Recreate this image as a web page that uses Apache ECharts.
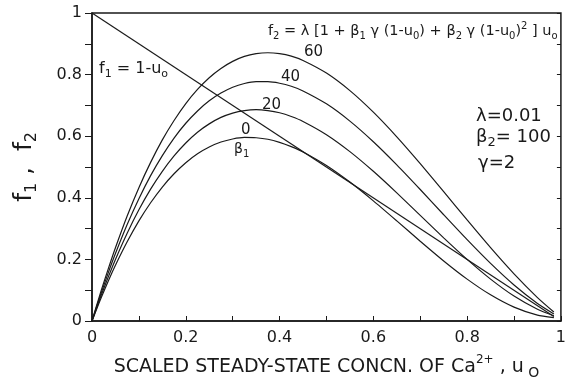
<!DOCTYPE html>
<html>
<head>
<meta charset="utf-8">
<script src="https://cdn.jsdelivr.net/npm/echarts@6/dist/echarts.min.js"></script>
<style>
  html, body { margin: 0; padding: 0; background: #fff; }
  #chart { width: 569px; height: 385px; }
</style>
</head>
<body>
<div id="chart"></div>
<script>
// scaled steady-state concentration u0 (x values)
let uValues = [0, 0.01, 0.02, 0.035, 0.05, 0.075, 0.1, 0.125, 0.15, 0.175, 0.2, 0.225, 0.25, 0.275,
  0.3, 0.325, 0.35, 0.375, 0.4, 0.425, 0.45, 0.5, 0.55, 0.6, 0.65, 0.7, 0.75, 0.8, 0.85, 0.9, 0.95, 0.985];

// f2 curves, one per beta1
let f2Beta0 = [0, 0.039, 0.077, 0.131, 0.181, 0.257, 0.325, 0.384, 0.435, 0.478, 0.514, 0.543, 0.565, 0.581,
  0.591, 0.596, 0.595, 0.59, 0.58, 0.566, 0.549, 0.505, 0.451, 0.39, 0.325, 0.259, 0.195, 0.136, 0.085, 0.045, 0.019, 0.011];
let f2Beta20 = [0, 0.043, 0.085, 0.144, 0.2, 0.285, 0.361, 0.428, 0.486, 0.536, 0.578, 0.613, 0.64, 0.661,
  0.675, 0.683, 0.686, 0.683, 0.676, 0.664, 0.648, 0.605, 0.55, 0.486, 0.416, 0.343, 0.27, 0.2, 0.136, 0.081, 0.038, 0.017];
let f2Beta40 = [0, 0.047, 0.093, 0.158, 0.219, 0.313, 0.397, 0.472, 0.537, 0.594, 0.642, 0.682, 0.715, 0.74,
  0.759, 0.771, 0.777, 0.777, 0.772, 0.762, 0.747, 0.705, 0.649, 0.582, 0.507, 0.427, 0.345, 0.264, 0.187, 0.117, 0.057, 0.023];
let f2Beta60 = [0, 0.051, 0.101, 0.171, 0.238, 0.341, 0.433, 0.515, 0.588, 0.651, 0.706, 0.752, 0.79, 0.82,
  0.843, 0.859, 0.868, 0.871, 0.868, 0.86, 0.846, 0.805, 0.748, 0.678, 0.598, 0.511, 0.42, 0.328, 0.238, 0.153, 0.076, 0.029];

// f1 = 1 - u0, straight line
let f1U = [0, 0.985];
let f1Values = [1, 0.015];

let tickValues = [0, 0.2, 0.4, 0.6, 0.8, 1];

let font = 'DejaVu Sans';
let ink = '#1a1a1a';

function pairs(xs, ys) {
  let res = [];
  for (let i = 0; i < xs.length; i++) {
    res.push([xs[i], ys[i]]);
  }
  return res;
}

function curve(name, ys) {
  return {
    name: name,
    type: 'line',
    data: pairs(uValues, ys),
    smooth: 0.2,
    showSymbol: false,
    lineStyle: { color: ink, width: 1.2 }
  };
}

function label(text, left, top, size) {
  return {
    type: 'text',
    left: left,
    top: top,
    style: {
      text: text,
      fill: ink,
      font: size + 'px ' + font,
      rich: {
        a: { fontSize: size, fontFamily: font, fill: ink, lineHeight: size + 6, verticalAlign: 'middle' },
        sub: { fontSize: Math.round(size * 0.7), fontFamily: font, fill: ink, verticalAlign: 'bottom' },
        sup: { fontSize: Math.round(size * 0.7), fontFamily: font, fill: ink, verticalAlign: 'top' }
      }
    }
  };
}

let axisFmt = function (v) {
  if (tickValues.indexOf(v) < 0) return '';
  return v === 0 || v === 1 ? String(v) : v.toFixed(1);
};

let chart = echarts.init(document.getElementById('chart'));

let option = {
  animation: false,
  backgroundColor: '#fff',
  grid: {
    left: 92, right: 8, top: 13, bottom: 61,
    show: true,
    borderColor: ink,
    borderWidth: 1.5
  },
  xAxis: {
    type: 'value',
    min: 0, max: 1, interval: 0.2,
    name: '{a|SCALED STEADY-STATE CONCN. OF Ca}{sup|2+}{a| , u}{sub| O}',
    nameLocation: 'middle',
    nameGap: 33,
    nameTextStyle: {
      rich: {
        a: { fontSize: 19, fontFamily: font, color: ink, lineHeight: 26, verticalAlign: 'middle' },
        sup: { fontSize: 12, fontFamily: font, color: ink, verticalAlign: 'top' },
        sub: { fontSize: 14, fontFamily: font, color: ink, verticalAlign: 'bottom' }
      }
    },
    axisLine: { lineStyle: { color: ink, width: 1.5 } },
    axisTick: { inside: true, length: 5, lineStyle: { color: ink } },
    minorTick: { show: true, splitNumber: 2, length: 5, lineStyle: { color: ink } },
    axisLabel: { color: ink, fontSize: 16, fontFamily: font, margin: 9, formatter: axisFmt },
    splitLine: { show: false }
  },
  yAxis: [{
    type: 'value',
    min: 0, max: 1, interval: 0.2,
    name: '{a|f}{sub|1}{a| ,  f}{sub|2}',
    nameLocation: 'middle',
    nameRotate: 90,
    nameGap: 52,
    nameTextStyle: {
      rich: {
        a: { fontSize: 25, fontFamily: font, color: ink, lineHeight: 32, verticalAlign: 'middle' },
        sub: { fontSize: 16, fontFamily: font, color: ink, verticalAlign: 'bottom' }
      }
    },
    axisLine: { lineStyle: { color: ink, width: 1.5 } },
    axisTick: { inside: false, length: 7, lineStyle: { color: ink } },
    minorTick: { show: true, splitNumber: 2, length: 7, lineStyle: { color: ink } },
    axisLabel: { color: ink, fontSize: 16, fontFamily: font, margin: 10, formatter: axisFmt },
    splitLine: { show: false }
  }, {
    type: 'value',
    position: 'right',
    min: 0, max: 1, interval: 0.2,
    axisLine: { show: false },
    axisTick: { inside: true, length: 4, lineStyle: { color: ink } },
    minorTick: { show: true, splitNumber: 2, length: 4, lineStyle: { color: ink } },
    axisLabel: { show: false },
    splitLine: { show: false }
  }],
  series: [
    {
      name: 'f1',
      type: 'line',
      data: pairs(f1U, f1Values),
      showSymbol: false,
      lineStyle: { color: ink, width: 1.2 }
    },
    curve('beta1 = 0', f2Beta0),
    curve('beta1 = 20', f2Beta20),
    curve('beta1 = 40', f2Beta40),
    curve('beta1 = 60', f2Beta60)
  ],
  graphic: [
    label('{a|f}{sub|1}{a| = 1-u}{sub|o}', 99, 61, 16),
    label('{a|f}{sub|2}{a| = λ [1 + β}{sub|1}{a| γ (1-u}{sub|0}{a|) + β}{sub|2}{a| γ (1-u}{sub|0}{a|)}{sup|2}{a| ] u}{sub|o}', 268, 21, 14.5),
    label('{a|60}', 304, 45, 15),
    label('{a|40}', 281, 70, 15),
    label('{a|20}', 262, 98, 15),
    label('{a|0}', 241, 123, 15),
    label('{a|β}{sub|1}', 234, 142, 14),
    label('{a|λ=0.01}', 476, 107, 18),
    label('{a|β}{sub|2}{a|= 100}', 476, 128, 18),
    label('{a|γ=2}', 478, 154, 18)
  ]
};

chart.setOption(option);
</script>
</body>
</html>
